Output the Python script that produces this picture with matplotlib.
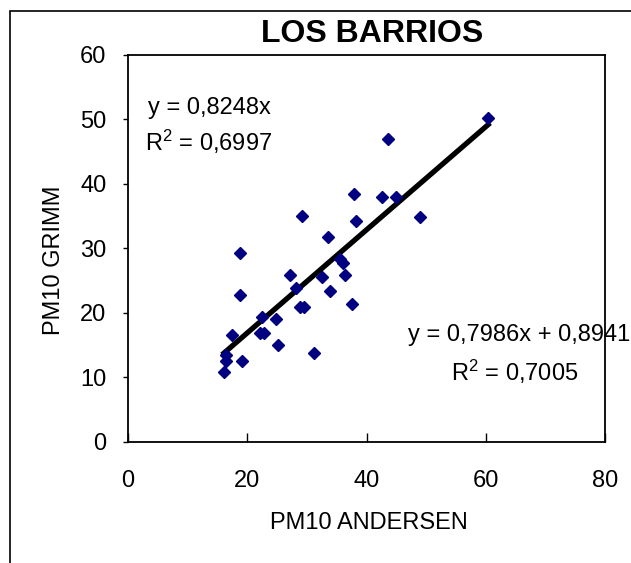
import numpy as np
import matplotlib
matplotlib.use('Agg')
import matplotlib.pyplot as plt
from matplotlib.patches import Rectangle

plt.rcParams['font.family'] = ['Liberation Sans', 'DejaVu Sans']
plt.rcParams['mathtext.fontset'] = 'custom'
plt.rcParams['mathtext.rm'] = 'Liberation Sans'
plt.rcParams['mathtext.it'] = 'Liberation Sans'

# PM10 pairs (Andersen vs Grimm)
andersen = [60.4, 43.6, 37.9, 42.6, 45.0, 29.2, 38.3, 49.0, 33.6, 18.8,
            35.6, 36.1, 27.2, 32.6, 36.4, 28.2, 33.9, 18.8, 28.9, 29.5,
            37.6, 22.5, 24.8, 17.4, 22.1, 22.8, 25.2, 31.2, 16.4, 16.4,
            19.1, 16.1]
grimm = [50.2, 46.9, 38.4, 38.0, 38.0, 35.0, 34.2, 34.9, 31.8, 29.3,
         28.3, 27.7, 25.9, 25.5, 25.9, 23.8, 23.4, 22.8, 20.9, 20.9,
         21.4, 19.3, 19.0, 16.6, 16.9, 16.9, 15.0, 13.8, 13.5, 12.5,
         12.5, 10.8]

# trend line (linear fit shown in the chart)
slope = 0.7986
intercept = 0.8941

x_ticks = [0, 20, 40, 60, 80]
y_ticks = [0, 10, 20, 30, 40, 50, 60]

fig = plt.figure(figsize=(6.31, 5.63), dpi=100)
ax = fig.add_axes([128 / 631, 1 - 441.8 / 563, 477 / 631, 387.3 / 563])

ax.plot(andersen, grimm, linestyle='none', marker='D', markersize=6.4,
        color='#000080', zorder=3)

xs = np.array([min(andersen), max(andersen)])
ax.plot(xs, slope * xs + intercept, color='black', linewidth=3.8, zorder=2)

ax.set_xlim(0, 80)
ax.set_ylim(0, 60)
ax.set_xticks(x_ticks)
ax.set_yticks(y_ticks)
ax.tick_params(axis='x', direction='in', length=6.5, width=1, pad=20, labelsize=17)
ax.tick_params(axis='y', direction='out', length=3.6, width=1, pad=12, labelsize=17)
for s in ax.spines.values():
    s.set_linewidth(1.3)

ax.set_xlabel('PM10 ANDERSEN', fontsize=17)
ax.set_ylabel('PM10 GRIMM', fontsize=17)
ax.xaxis.set_label_coords(0.505, -0.18)
ax.yaxis.set_label_coords(-0.133, 0.47)

fig.text(372 / 631, 1 - 34 / 563, 'LOS BARRIOS', fontsize=23, fontweight='bold',
         ha='center', va='center')

fig.text(148 / 631, 1 - 108 / 563, 'y = 0,8248x', fontsize=17, ha='left', va='center')
fig.text(145 / 631, 1 - 142 / 563, r'R$^{2}$ = 0,6997', fontsize=17, ha='left', va='center')
fig.text(408 / 631, 1 - 335 / 563, 'y = 0,7986x + 0,8941', fontsize=17, ha='left', va='center')
fig.text(451 / 631, 1 - 372 / 563, r'R$^{2}$ = 0,7005', fontsize=17, ha='left', va='center')

# outer chart frame
fig.patches.append(Rectangle((10 / 631, -0.1), 1.2, 1.1 - 11 / 563,
                             transform=fig.transFigure, fill=False,
                             edgecolor='black', linewidth=1.2))

fig.savefig('out.png', dpi=100)
